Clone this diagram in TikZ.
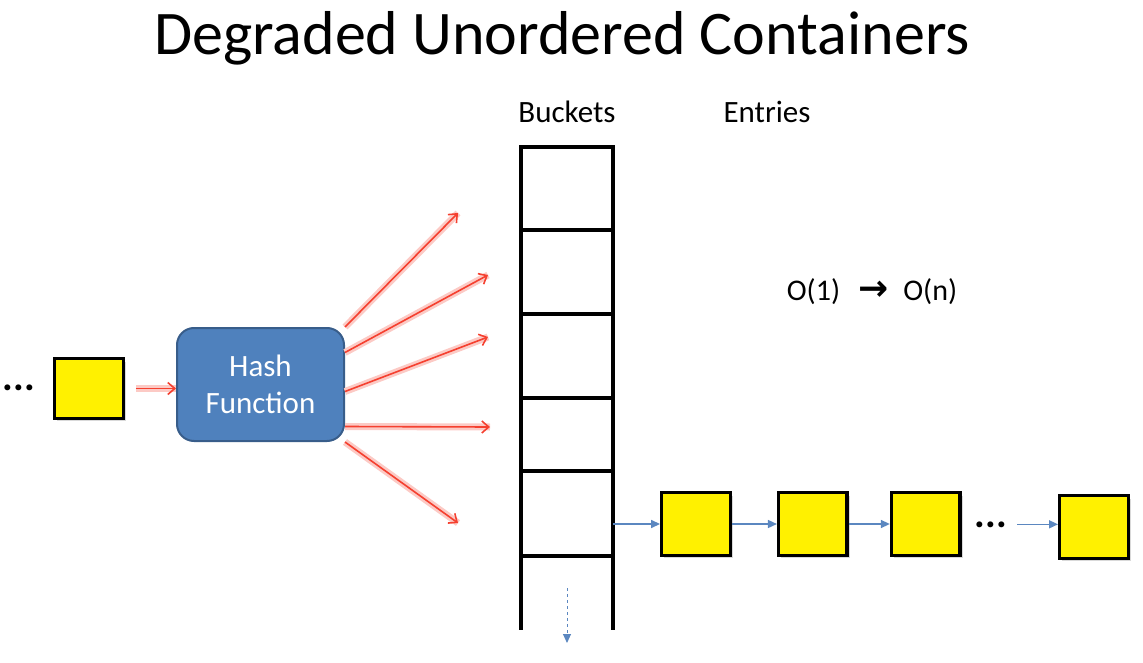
\documentclass[tikz,border=0pt]{standalone}
\usepackage{fontspec}
\setmainfont{Carlito}
\newfontfamily\arrowfont{DejaVu Sans}
\usetikzlibrary{arrows.meta,positioning,shadows}
\definecolor{hashblue}{HTML}{4F81BD}
\definecolor{hashedge}{HTML}{385D8A}
\definecolor{linkblue}{HTML}{5B87C0}
\definecolor{entryyellow}{HTML}{FFF100}
\definecolor{glowred}{HTML}{F5402F}

\begin{document}
\begin{tikzpicture}[x=1pt,y=-1pt,>={Triangle[length=9pt,width=8pt]},node distance=45pt,semithick]
\tikzstyle{entry}=[draw=black,line width=3.4pt,fill=entryyellow,minimum width=68.5pt,minimum height=62.5pt,inner sep=0pt,drop shadow={shadow xshift=2.5pt,shadow yshift=-3pt,opacity=0.3}]
\tikzstyle{bucket}=[draw=black,line width=3.6pt,minimum width=92pt,inner sep=0pt,outer sep=0pt]
\tikzstyle{hashbox}=[draw=hashedge,line width=2pt,fill=hashblue,rounded corners=17pt,minimum width=167pt,minimum height=113pt,text=white,align=center,font=\fontsize{31}{37}\selectfont]
\tikzstyle{heading}=[anchor=base,inner sep=0pt,font=\fontsize{31}{36}\selectfont]
\tikzstyle{dots}=[anchor=base,inner sep=0pt,font=\bfseries\fontsize{40}{40}\selectfont]
\tikzstyle{hashto}=[-{Straight Barb[length=7pt,width=12pt]},draw=glowred,line width=1.6pt,preaction={draw=glowred!28,line width=7pt,-}]
\tikzstyle{link}=[->,draw=linkblue,line width=1.5pt]
\useasboundingbox (0,0) rectangle (1143,663);

\node[anchor=base,font=\fontsize{62}{66}\selectfont] (title) at (562,55) {Degraded Unordered Containers};
\node[heading] (bkname) at (567,123) {Buckets};
\node[heading] (enname) at (767,123) {Entries};
\node[heading,font=\fontsize{30}{36}\selectfont] (cost) at (872,300) {O(1)\hspace{18pt}{\arrowfont\bfseries\fontsize{36}{36}\selectfont →}\hspace{15pt}O(n)};

\node[dots] (ldots) at (19,390) {...};
\node[entry,minimum height=59.5pt] (inp) at (89,388.5) {};
\node[hashbox] (hash) at (260.5,384.5) {Hash\\Function};

\node[bucket,minimum height=83pt] (b1) at (567,188.5) {};
\node[bucket,minimum height=84pt,below=0pt of b1] (b2) {};
\node[bucket,minimum height=84pt,below=0pt of b2] (b3) {};
\node[bucket,minimum height=73pt,below=0pt of b3] (b4) {};
\node[bucket,minimum height=85pt,below=0pt of b4] (b5) {};
\coordinate (bl) at (521,630);
\coordinate (br) at (613,630);
\coordinate (dtop) at (567,588);
\coordinate (dbot) at (567,643);

\node[entry] (e1) at (696,524) {};
\node[entry,right=45pt of e1] (e2) {};
\node[entry,right=41pt of e2] (e3) {};
\node[dots] (edots) at (991,527) {...};
\node[entry] (e4) at (1094,527) {};

\coordinate (t1) at (458,213);
\coordinate (t2) at (488,275);
\coordinate (t3) at (488,337);
\coordinate (t4) at (490,427);
\coordinate (t5) at (458,523);

\draw[hashto,shorten <=11pt] (inp.east) -- (inp.east -| hash.west);
\path (hash.north east) edge[hashto] (t1)
      ([yshift=32pt]hash.east) edge[hashto] (t2)
      ([yshift=-7pt]hash.east) edge[hashto] (t3)
      ([yshift=-42pt]hash.east) edge[hashto] (t4)
      (hash.south east) edge[hashto] (t5);

\draw[line width=3.6pt] (b5.south west) -- (bl)
      (b5.south east) -- (br);
\draw[link,dashed,line width=1pt] (dtop) -- (dbot);

\path (b5.east |- e1.west) edge[link] (e1.west)
      (e1) edge[link] (e2)
      (e2) edge[link] (e3);
\draw[link,shorten <=10pt] (edots.east) -- (edots.east -| e4.west);
\end{tikzpicture}
\end{document}
